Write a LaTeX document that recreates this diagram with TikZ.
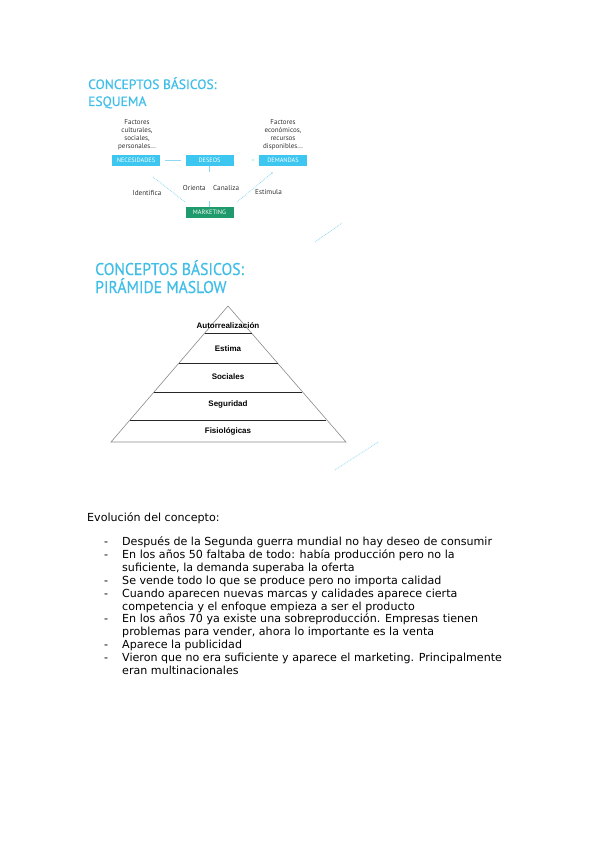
\documentclass[tikz,border=0pt]{standalone}
\usepackage{fontspec}
\setmainfont{DejaVu Sans}
\newfontfamily\titlefont[FakeBold=0.6]{PT Sans}
\newfontfamily\arialfont{Liberation Sans}
\newfontfamily\narrowfont{PT Sans}
\definecolor{ttl}{HTML}{40BEE8}
\definecolor{boxc}{HTML}{3CC6F0}
\definecolor{mkt}{HTML}{1E9A6C}
\definecolor{lnc}{HTML}{8ED8F2}
\definecolor{pyr}{HTML}{8A8A8A}
\begin{document}
\begin{tikzpicture}[x=1pt,y=-1pt,
  ttl1/.style={anchor=base west,inner sep=0,text=ttl,font=\titlefont\fontsize{13.5}{14}\selectfont},
  ttl2/.style={anchor=base west,inner sep=0,text=ttl,font=\titlefont\fontsize{17}{18}\selectfont},
  sbox/.style={fill=boxc,minimum width=48pt,minimum height=11pt,inner sep=0,text=white,font=\narrowfont\fontsize{6.3}{6.3}\selectfont},
  gbox/.style={sbox,fill=mkt},
  fact/.style={align=center,inner sep=0,text=black!80,font=\narrowfont\fontsize{7}{8}\selectfont},
  elab/.style={inner sep=0,text=black!80,font=\narrowfont\fontsize{7.2}{8}\selectfont},
  conn/.style={draw=lnc,line width=0.8pt},
  dconn/.style={draw=lnc,line width=0.8pt,densely dotted},
  plab/.style={inner sep=0,font=\arialfont\bfseries\fontsize{8}{9}\selectfont},
  pline/.style={draw=black!85,line width=0.9pt},
  body/.style={anchor=base west,inner sep=0,font=\fontsize{11.1}{13}\selectfont},
]
\useasboundingbox (0,0) rectangle (599,848);
% ---------- Esquema ----------
\node[ttl1] (t1a) at (88,89) {CONCEPTOS BÁSICOS:};
\node[ttl1] (t1b) at (88,106) {ESQUEMA};
\node[sbox] (nec) at (136,160.5) {NECESIDADES};
\node[sbox] (des) at (209.5,160.5) {DESEOS};
\node[sbox] (dem) at (283,160.5) {DEMANDAS};
\node[gbox] (mk) at (209.5,212.5) {MARKETING};
\node[fact] (f1) at (137,135) {Factores\\culturales,\\sociales,\\personales...};
\node[fact] (f2) at (283,135) {Factores\\económicos,\\recursos\\disponibles...};
\draw[conn,shorten <=5pt,shorten >=4pt] (nec.east) -- (des.west);
\coordinate (dot) at (253,160);
\fill[lnc] (dot) circle (0.9);
\draw[conn] (des.south) -- ++(0,6);
\draw[conn] (mk.north) -- ++(0,-6);
\node[elab,anchor=east] (lo) at (206,188) {Orienta};
\node[elab,anchor=west] (lc) at (213,188) {Canaliza};
\coordinate (n1) at (153,177);
\coordinate (n2) at (185,202);
\draw[dconn] (n1) -- (n2);
\coordinate (d1) at (272,173);
\coordinate (d2) at (237,202);
\draw[dconn] (d1) -- (d2);
\fill[lnc] (d1) circle (0.9);
\node[elab] (li) at (147,193) {Identifica};
\node[elab,anchor=west] (le) at (255,192) {Estimula};
\coordinate (s1) at (315,242);
\coordinate (s2) at (342,223);
\draw[dconn] (s1) -- (s2);
% ---------- Piramide ----------
\node[ttl2] (t2a) at (95,275) {\scalebox{0.92}[1]{CONCEPTOS BÁSICOS:}};
\node[ttl2] (t2b) at (95,293) {\scalebox{0.92}[1]{PIRÁMIDE MASLOW}};
\coordinate (ap) at (228,306);
\coordinate (bl) at (111,442);
\coordinate (br) at (346,442);
\draw[pyr,line width=0.6pt] (bl) -- (ap) -- (br) -- cycle;
\draw[pline] (204.5,333) -- (252,333);
\draw[pline] (179,363) -- (278,363);
\draw[pline] (154,392) -- (302,392);
\draw[pline] (130,420) -- (326,420);
\node[plab] (p1) at (228,326) {Autorrealización};
\node[plab] (p2) at (228,349) {Estima};
\node[plab] (p3) at (228,377) {Sociales};
\node[plab] (p4) at (228,404) {Seguridad};
\node[plab] (p5) at (228,431) {Fisiológicas};
\coordinate (q1) at (335,470);
\coordinate (q2) at (378,442);
\draw[dconn] (q1) -- (q2);
% ---------- Texto ----------
\node[body] (ev) at (87,521.5) {Evolución del concepto:};
\foreach \yy/\dash/\txt in {
 545.5/1/Después de la Segunda guerra mundial no hay deseo de consumir,
 558.4/1/En los años 50 faltaba de todo: había producción pero no la,
 571.3/0/{suficiente, la demanda superaba la oferta},
 584.2/1/Se vende todo lo que se produce pero no importa calidad,
 597.1/1/Cuando aparecen nuevas marcas y calidades aparece cierta,
 610.0/0/competencia y el enfoque empieza a ser el producto,
 622.9/1/En los años 70 ya existe una sobreproducción. Empresas tienen,
 635.8/0/{problemas para vender, ahora lo importante es la venta},
 648.7/1/Aparece la publicidad,
 661.6/1/Vieron que no era suficiente y aparece el marketing. Principalmente,
 674.5/0/eran multinacionales}{
  \node[body] at (122,\yy) {\txt};
  \ifnum\dash=1 \node[body] at (104,\yy) {-};\fi
}
\end{tikzpicture}
\end{document}
